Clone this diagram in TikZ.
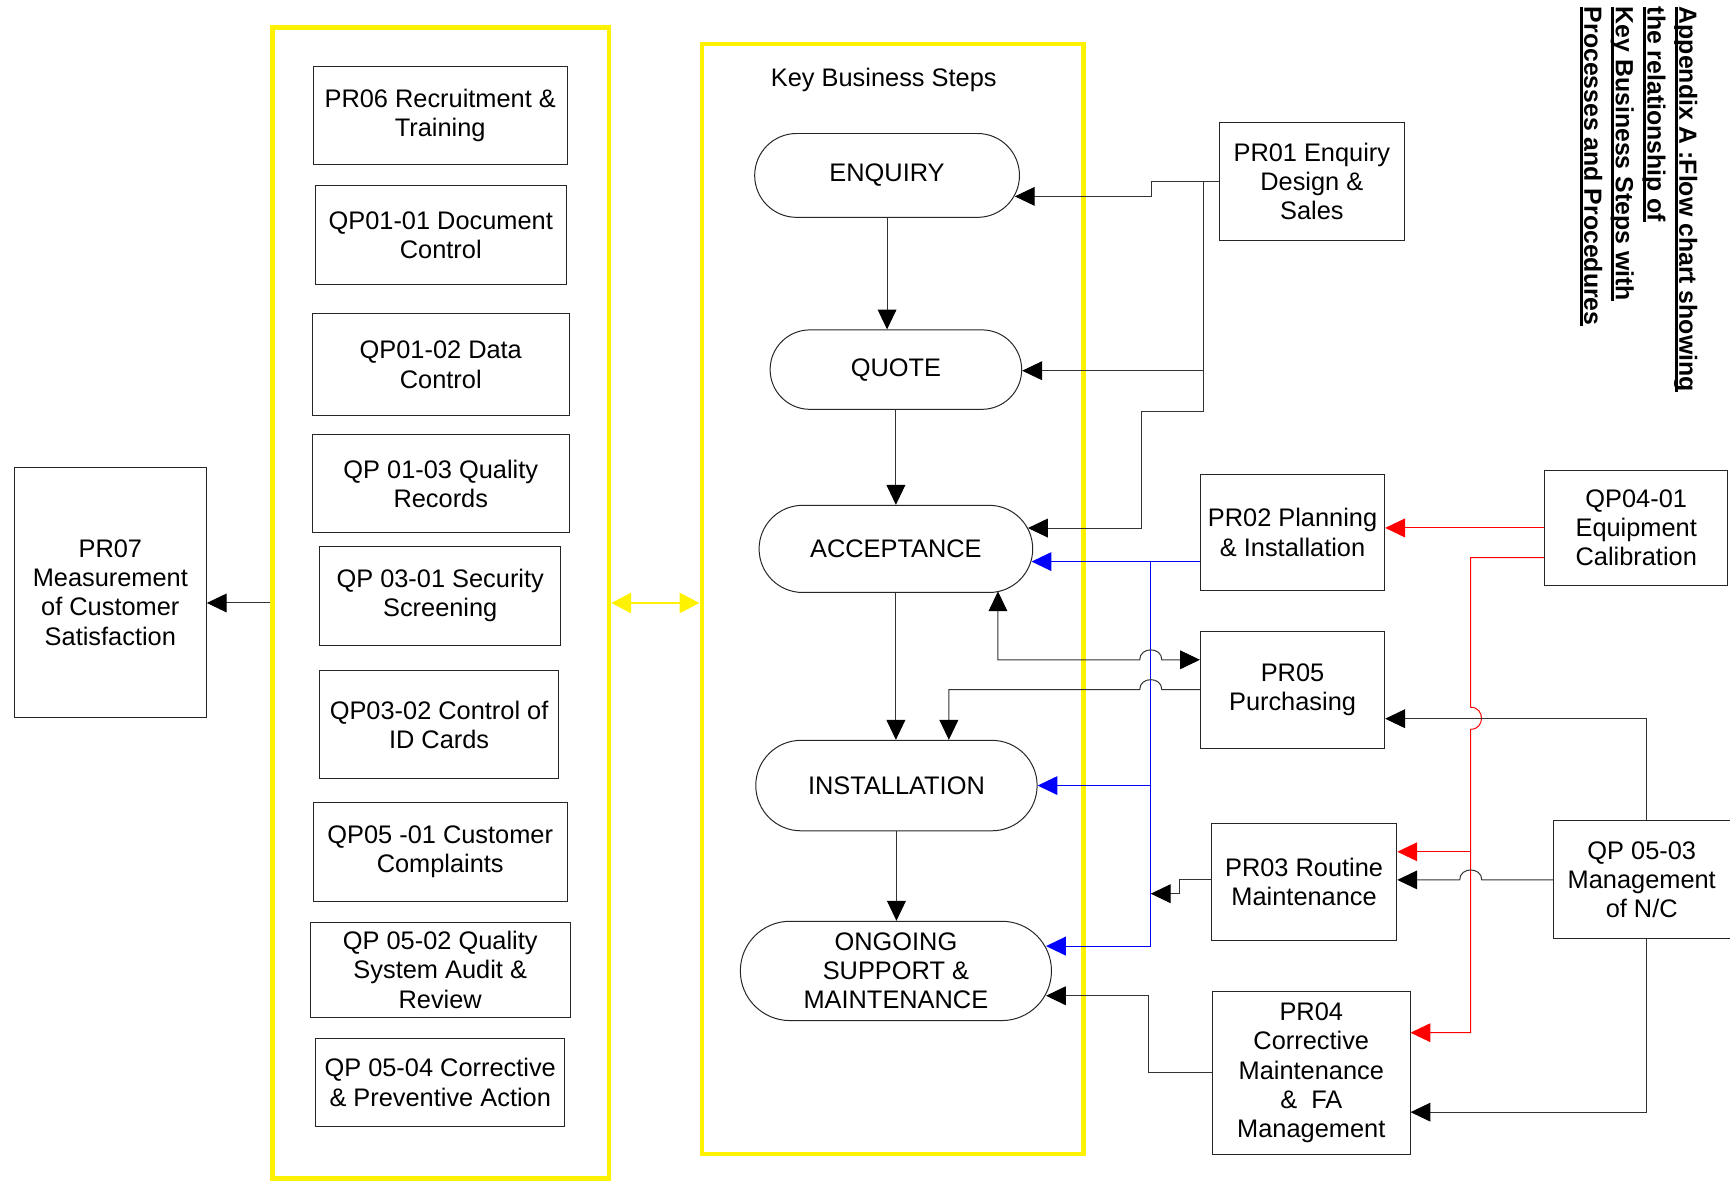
\documentclass[tikz,border=0pt]{standalone}
\usepackage{fontspec}
\setmainfont{Liberation Sans}
\usetikzlibrary{arrows.meta,shapes.misc}

% underline drawn as a heavy bar just under the baseline
\newcommand\ulbar[1]{\leavevmode\setbox0=\hbox{#1}\rlap{\rule[-4.2pt]{\wd0}{2.8pt}}\box0}
\newcommand\boxfont{\fontsize{23}{26.5}\selectfont}

\begin{document}
\begin{tikzpicture}[x=1pt, y=-1pt,
  yframe/.style={draw=yellow, line width=4pt, inner sep=0pt},
  pbox/.style={draw=black!85, line width=0.9pt, align=center, font=\boxfont, inner sep=0pt},
  stepbox/.style={pbox, rounded rectangle},
  wire/.style={draw=black!80, line width=0.9pt},
  arr/.style={wire, -{Triangle[length=18pt,width=17pt,color=black]}},
  arrboth/.style={wire, {Triangle[length=18pt,width=17pt,color=black]}-{Triangle[length=18pt,width=17pt,color=black]}},
  barr/.style={draw=blue, line width=1pt, -{Triangle[length=18pt,width=17pt]}},
  rarr/.style={draw=red, line width=0.9pt, -{Triangle[length=18pt,width=17pt]}},
  yarr/.style={draw=yellow, line width=2.5pt, {Triangle[length=18pt,width=18pt]}-{Triangle[length=18pt,width=18pt]}}
]
\fill[white] (0,0) rectangle (1568,1070);
\useasboundingbox (0,0) rectangle (1568,1070);

% the two yellow frames
\node[yframe, minimum width=305pt, minimum height=1043pt] (lcol) at (399.5,546.5) {};
\node[yframe, minimum width=346pt, minimum height=1006pt] (mcol) at (809,543) {};

% supporting procedures
\node[pbox, minimum width=230pt, minimum height=89pt] (pr06) at (399,104.5) {PR06 Recruitment \&\\Training};
\node[pbox, minimum width=227pt, minimum height=90pt] (qp0101) at (399.5,213) {QP01-01 Document\\Control};
\node[pbox, minimum width=233pt, minimum height=93pt] (qp0102) at (399.5,330.5) {QP01-02 Data\\Control};
\node[pbox, minimum width=233pt, minimum height=89pt] (qp0103) at (399.5,438.5) {QP 01-03 Quality\\Records};
\node[pbox, minimum width=218pt, minimum height=90pt] (qp0301) at (399,540) {QP 03-01 Security\\Screening};
\node[pbox, minimum width=216pt, minimum height=98pt] (qp0302) at (398,657) {QP03-02 Control of\\ID Cards};
\node[pbox, minimum width=230pt, minimum height=90pt] (qp0501) at (399,772) {QP05 -01 Customer\\Complaints};
\node[pbox, minimum width=236pt, minimum height=86pt] (qp0502) at (399,879) {QP 05-02 Quality\\System Audit \&\\Review};
\node[pbox, minimum width=226pt, minimum height=80pt] (qp0504) at (399,981) {QP 05-04 Corrective\\\& Preventive Action};

\node[pbox, minimum width=174pt, minimum height=226pt] (pr07) at (100,537) {PR07\\Measurement\\of Customer\\Satisfaction};

% key business steps
\node[font=\boxfont, inner sep=0pt] (kbs) at (801,72.5) {Key Business Steps};
\node[stepbox, minimum width=240pt, minimum height=76pt] (enq) at (804,159) {ENQUIRY};
\node[stepbox, minimum width=228pt, minimum height=72pt] (quote) at (812,335) {QUOTE};
\node[stepbox, minimum width=248pt, minimum height=79pt] (acc) at (812,497.5) {ACCEPTANCE};
\node[stepbox, minimum width=255pt, minimum height=82pt] (inst) at (812.5,712) {INSTALLATION};
\node[stepbox, minimum width=282pt, minimum height=90pt] (ong) at (812,880) {ONGOING\\SUPPORT \&\\MAINTENANCE};

% processes
\node[pbox, minimum width=168pt, minimum height=107pt] (pr01) at (1189,164.5) {PR01 Enquiry\\Design \&\\Sales};
\node[pbox, minimum width=167pt, minimum height=105pt] (pr02) at (1171.5,482.5) {PR02 Planning\\\& Installation};
\node[pbox, minimum width=167pt, minimum height=106pt] (pr05) at (1171.5,625) {PR05\\Purchasing};
\node[pbox, minimum width=168pt, minimum height=106pt] (pr03) at (1182,799) {PR03 Routine\\Maintenance};
\node[pbox, minimum width=179pt, minimum height=147pt] (pr04) at (1188.5,972.5) {PR04\\Corrective\\Maintenance\\\&~ FA\\Management};
\node[pbox, minimum width=166pt, minimum height=105pt] (qp0401) at (1483,478.5) {QP04-01\\Equipment\\Calibration};
\node[pbox, minimum width=160pt, minimum height=107pt] (qp0503) at (1488,797.5) {QP 05-03\\Management\\of N/C};

% heading
\node[rotate=-90, anchor=north west, align=left, inner sep=0pt,
      font=\bfseries\fontsize{22.5}{28.7}\selectfont] (title) at (1538.5,6)
  {\ulbar{Appendix A :Flow chart showing}\\\ulbar{the relationship of}\\\ulbar{Key Business Steps with}\\\ulbar{Processes and Procedures}};

% border points on the rounded steps
\coordinate (enqR) at (enq.-9.39);
\coordinate (accT) at (acc.9.01);
\coordinate (accB) at (acc.-5.37);
\coordinate (accU) at (acc.-22.69);
\coordinate (ongB) at (ong.9.46);
\coordinate (ongK) at (ong.-9.46);

% main flow
\draw[arr] (enq.south) -- (enq.south |- quote.north);
\draw[arr] (quote.south) -- (quote.south |- acc.north);
\draw[arr] (acc.south) -- (acc.south |- inst.north);
\draw[arr] (inst.south) -- (inst.south |- ong.north);

% frames
\draw[arr] (lcol.west) -- (lcol.west -| pr07.east);
\draw[yarr] (lcol.east) -- (lcol.east -| mcol.west);

% PR01 feeds
\coordinate (e1) at (1044,178);
\coordinate (j2) at (1091,336);
\coordinate (j3) at (1035,372.6);
\coordinate (a1) at (1035,478.6);
\draw[arr] (pr01.west) -- (pr01.west -| e1) -- (e1) -- (e1 -| enqR);
\draw[arr] (pr01.west) -| (j2) -- (j2 -| quote.east);
\draw[arr] (j2) |- (j3) -- (a1) -- (a1 -| accT);

% PR02 bus
\coordinate (b0) at (1043,509);
\coordinate (b1) at (1043,712);
\coordinate (b2) at (1043,857.5);
\draw[barr] (b0 -| pr02.west) -- (b0 -| accB);
\draw[barr] (b0) |- (b2 -| ongB);
\draw[barr] (b1) -- (b1 -| inst.east);

% PR05 links, hopping over the bus
\coordinate (p1) at (904.5,598);
\coordinate (p2) at (860,625);
\draw[arrboth] (p1 |- accU) -- (p1) -- (1033,598) .. controls (1033,586) and (1053,586) .. (1053,598) -- (p1 -| pr05.west);
\draw[arr] (pr05.west) -- (1053,625) .. controls (1053,613) and (1033,613) .. (1033,625) -- (p2) -- (p2 |- inst.north);

% calibration feeds
\coordinate (r0) at (1333,505.4);
\coordinate (r1) at (1333,772);
\coordinate (r2) at (1333,936);
\draw[rarr] (qp0401.west) -- (qp0401.west -| pr02.east);
\draw[rarr] (r0 -| qp0401.west) -- (r0) -- (1333,641) .. controls (1346,641) and (1346,661) .. (1333,661) -- (r2) -- (r2 -| pr04.east);
\draw[rarr] (r1) -- (r1 -| pr03.east);

% non-conformance feeds
\coordinate (k1) at (1492.5,651.4);
\coordinate (k2) at (1492.5,1008);
\draw[arr] (k1 |- qp0503.north) -- (k1) -- (k1 -| pr05.east);
\draw[arr] (qp0503.west) -- (1343,797.5) .. controls (1343,785.5) and (1323,785.5) .. (1323,797.5) -- (qp0503.west -| pr03.east);
\draw[arr] (k2 |- qp0503.south) -- (k2) -- (k2 -| pr04.east);

% maintenance returns
\coordinate (s1) at (1069,797);
\coordinate (s2) at (1069,810);
\draw[arr] (s1 -| pr03.west) -- (s1) -- (s2) -- (b0 |- s2);
\coordinate (o1) at (1041,902.5);
\draw[arr] (pr04.west) -| (o1) -- (o1 -| ongK);
\end{tikzpicture}
\end{document}
